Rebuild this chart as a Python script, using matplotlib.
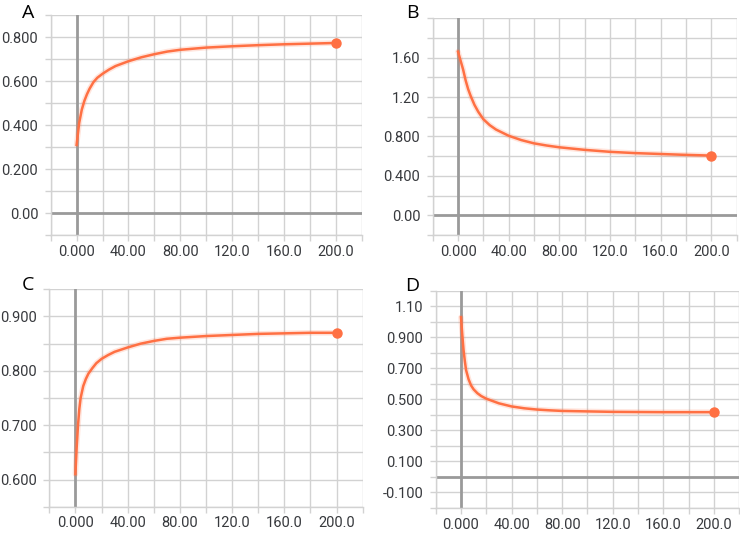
import matplotlib
matplotlib.use("Agg")
import matplotlib.pyplot as plt

# panel A
a_x = [0, 2, 4, 6, 8, 10, 13, 16, 20, 25, 30, 40, 50, 60, 70, 80, 100, 120, 140, 160, 180, 200]
a_y = [0.31, 0.41, 0.47, 0.51, 0.54, 0.565, 0.595, 0.615, 0.633, 0.652, 0.668, 0.690, 0.708,
       0.722, 0.734, 0.742, 0.752, 0.758, 0.763, 0.767, 0.770, 0.773]

# panel B
b_x = [0, 2, 4, 6, 8, 10, 13, 16, 20, 25, 30, 40, 50, 60, 70, 80, 100, 120, 140, 160, 180, 200]
b_y = [1.66, 1.57, 1.48, 1.37, 1.28, 1.21, 1.12, 1.05, 0.975, 0.915, 0.87, 0.807, 0.763, 0.730,
       0.708, 0.690, 0.664, 0.644, 0.631, 0.622, 0.613, 0.606]

# panel C
c_x = [0, 1, 2, 3, 4, 6, 8, 10, 13, 16, 20, 25, 30, 40, 50, 60, 70, 80, 100, 120, 140, 160, 180, 200]
c_y = [0.61, 0.66, 0.70, 0.73, 0.75, 0.772, 0.785, 0.795, 0.805, 0.814, 0.822, 0.829, 0.835,
       0.843, 0.850, 0.855, 0.859, 0.861, 0.864, 0.866, 0.868, 0.869, 0.870, 0.870]

# panel D
d_x = [0, 1, 2, 3, 4, 6, 8, 10, 13, 16, 20, 25, 30, 40, 50, 60, 70, 80, 100, 120, 140, 160, 180, 200]
d_y = [1.03, 0.92, 0.82, 0.75, 0.69, 0.63, 0.59, 0.565, 0.54, 0.522, 0.505, 0.49, 0.475, 0.455,
       0.443, 0.435, 0.430, 0.426, 0.423, 0.420, 0.419, 0.418, 0.418, 0.418]

x_grid = [-20, 0, 20, 40, 60, 80, 100, 120, 140, 160, 180, 200, 220]
x_labels = ['', '0.000', '', '40.00', '', '80.00', '', '120.0', '', '160.0', '', '200.0', '']

a_grid = [-0.1, 0.0, 0.1, 0.2, 0.3, 0.4, 0.5, 0.6, 0.7, 0.8, 0.9]
a_labels = ['', '0.00', '', '0.200', '', '0.400', '', '0.600', '', '0.800', '']
b_grid = [-0.2, 0.0, 0.2, 0.4, 0.6, 0.8, 1.0, 1.2, 1.4, 1.6, 1.8, 2.0]
b_labels = ['', '0.00', '', '0.400', '', '0.800', '', '1.20', '', '1.60', '', '']
c_grid = [0.55, 0.60, 0.65, 0.70, 0.75, 0.80, 0.85, 0.90, 0.95]
c_labels = ['', '0.600', '', '0.700', '', '0.800', '', '0.900', '']
d_grid = [-0.2, -0.1, 0.0, 0.1, 0.2, 0.3, 0.4, 0.5, 0.6, 0.7, 0.8, 0.9, 1.0, 1.1, 1.2]
d_labels = ['', '-0.100', '', '0.100', '', '0.300', '', '0.500', '', '0.700', '', '0.900', '', '1.10', '']

LINE = '#ff7043'
GRID = '#d2d2d2'
ZERO = '#9a9a9a'
TXT = '#37393d'

plt.rcParams['font.family'] = ['Roboto', 'DejaVu Sans']

fig = plt.figure(figsize=(7.4, 5.33), dpi=100)

panels = [
    ('A', [0.0685, 0.559, 0.4203, 0.4128], a_x, a_y, a_grid, a_labels, (22, 18)),
    ('B', [0.5847, 0.559, 0.4108, 0.4070], b_x, b_y, b_grid, b_labels, (406, 18)),
    ('C', [0.0666, 0.0493, 0.4235, 0.4079], c_x, c_y, c_grid, c_labels, (22, 290)),
    ('D', [0.5888, 0.0470, 0.4100, 0.4071], d_x, d_y, d_grid, d_labels, (405, 291)),
]

for name, rect, xs, ys, ygrid, ylabels, lpos in panels:
    ax = fig.add_axes(rect)
    ax.set_xlim(x_grid[0], x_grid[-1])
    ax.set_ylim(ygrid[0], ygrid[-1])
    ax.set_xticks(x_grid)
    ax.set_xticklabels(x_labels)
    ax.set_yticks(ygrid)
    ax.set_yticklabels(ylabels)
    ax.grid(True, color=GRID, lw=1.0)
    ax.set_axisbelow(True)
    ax.tick_params(colors=GRID, labelcolor=TXT, labelsize=10.5, length=4, width=1, pad=5)
    ax.tick_params(axis='x', pad=3)
    for side in ['top', 'right']:
        ax.spines[side].set_visible(False)
    for side in ['left', 'bottom']:
        ax.spines[side].set_color(GRID)
        ax.spines[side].set_linewidth(1.0)
    # zero lines
    ax.axvline(0, color=ZERO, lw=2, zorder=1)
    if ygrid[0] < 0:
        ax.axhline(0, color=ZERO, lw=2, zorder=1)
    # faint raw trace + smoothed line
    ax.plot(xs, ys, color=LINE, lw=4, alpha=0.18, zorder=2, solid_capstyle='round')
    ax.plot(xs, ys, color=LINE, lw=1.8, zorder=3)
    ax.plot(xs[-1], ys[-1], 'o', color=LINE, ms=6.5, zorder=4)
    fig.text(lpos[0] / 740, 1 - lpos[1] / 533, name, fontsize=14, color='black',
             family=['Open Sans', 'DejaVu Sans'])

fig.savefig('out.png', dpi=100)
